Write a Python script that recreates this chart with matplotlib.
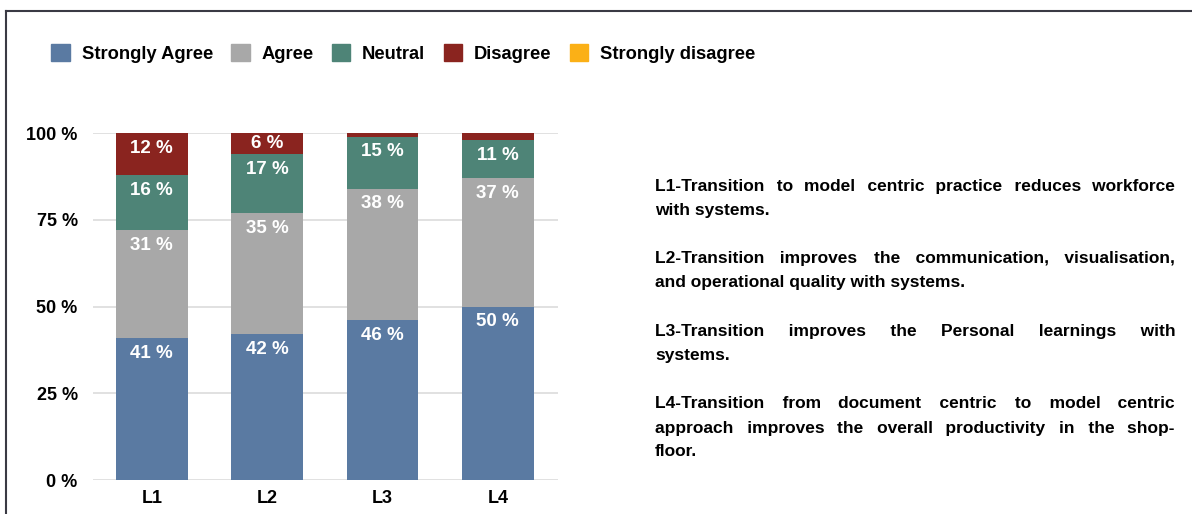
import matplotlib.pyplot as plt
import numpy as np
from matplotlib.lines import Line2D

plt.rcParams['font.family'] = ['Liberation Sans', 'DejaVu Sans']
plt.rcParams['font.weight'] = 'bold'

items = ["L1", "L2", "L3", "L4"]
levels = ["Strongly Agree", "Agree", "Neutral", "Disagree", "Strongly disagree"]
strongly_agree = [41, 42, 46, 50]
agree = [31, 35, 38, 37]
neutral = [16, 17, 15, 11]
disagree = [12, 6, 1, 2]
strongly_disagree = [0, 0, 0, 0]
colors = ["#5a7aa2", "#a8a8a8", "#4e8477", "#8a241f", "#fbb016"]

# statement text, already broken into lines
note_lines = [
    ["L1-Transition to model centric practice reduces workforce", "with systems."],
    ["L2-Transition improves the communication, visualisation,", "and operational quality with systems."],
    ["L3-Transition improves the Personal learnings with", "systems."],
    ["L4-Transition from document centric to model centric",
     "approach improves the overall productivity in the shop-", "floor."],
]

fig = plt.figure(figsize=(11.92, 5.14), dpi=100)
ax = fig.add_axes([0.078, 0.066, 0.39, 0.675])

series = [strongly_agree, agree, neutral, disagree, strongly_disagree]
x = np.arange(len(items))
bottom = np.zeros(len(items))
for vals, col, name in zip(series, colors, levels):
    vals = np.array(vals, dtype=float)
    ax.bar(x, vals, 0.62, bottom=bottom, color=col, label=name, zorder=2)
    for xi, b, v in zip(x, bottom, vals):
        if v >= 5:
            top = b + v
            ax.text(xi, top - min(v / 2, 4.4), f"{int(v)} %", ha="center", va="center",
                    color="white", fontsize=13.5, fontweight="bold", zorder=3)
    bottom += vals

ax.set_xlim(-0.51, 3.52)
ax.set_ylim(0, 100)
ax.set_yticks([0, 25, 50, 75, 100])
ax.set_yticklabels(["0 %", "25 %", "50 %", "75 %", "100 %"])
ax.set_xticks(x)
ax.set_xticklabels(items)
ax.tick_params(length=0, labelsize=13, pad=7)
ax.tick_params(axis="y", pad=11)
ax.grid(axis="y", color="#dcdcdc", lw=1.2, zorder=0)
for s in ax.spines.values():
    s.set_visible(False)

handles = [plt.Rectangle((0, 0), 1, 1, color=c) for c in colors]
fig.legend(handles, levels, loc="upper left", bbox_to_anchor=(0.037, 0.928), ncol=5,
           frameon=False, fontsize=13.2, handlelength=1.0, handleheight=1.0,
           handletextpad=0.65, columnspacing=1.0, borderaxespad=0)

# justified notes on the right: gaps padded with hair spaces so each line
# stays one text object on a single baseline
fig.canvas.draw()
renderer = fig.canvas.get_renderer()
x0, x1 = 655, 1175
W, H = fig.bbox.width, fig.bbox.height
fs = 12.5


def text_width(s):
    t = fig.text(0, 0, s, fontsize=fs, fontweight="bold")
    w = t.get_window_extent(renderer).width
    t.remove()
    return w


space_w = text_width("a b") - text_width("ab")
hair_w = text_width("a\u200ab") - text_width("ab")

y = 191
for lines in note_lines:
    for i, line in enumerate(lines):
        words = line.split(" ")
        last = i == len(lines) - 1
        if last or len(words) == 1:
            s = line
        else:
            extra = (x1 - x0 - text_width(line)) / (len(words) - 1)
            n = extra / hair_w
            s = words[0]
            acc = 0.0
            for k, w in enumerate(words[1:], 1):
                cnt = int(round(n * k - acc))
                acc += cnt
                s += " " + "\u200a" * cnt + w
        fig.text(x0 / W, 1 - y / H, s, fontsize=fs, fontweight="bold",
                 va="baseline", ha="left")
        y += 24
    y += 24.5

# outer frame
fig.add_artist(Line2D([6 / W, 1], [1 - 11 / H, 1 - 11 / H], color="#3a3a44", lw=1.5))
fig.add_artist(Line2D([6 / W, 6 / W], [0, 1 - 11 / H], color="#3a3a44", lw=1.5))

fig.savefig("out.png", dpi=100)
